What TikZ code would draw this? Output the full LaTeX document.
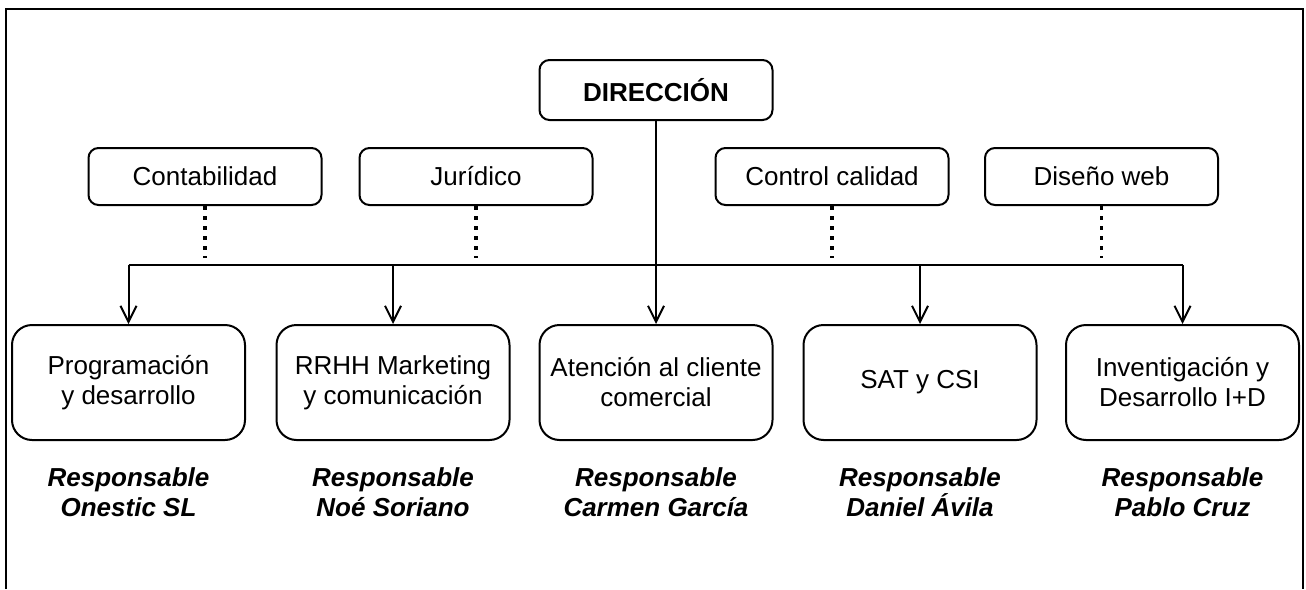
\documentclass[tikz,border=0pt]{standalone}
\usepackage{fontspec}
\setmainfont{Liberation Sans}
\usetikzlibrary{arrows.meta}

\begin{document}
\begin{tikzpicture}[x=0.5pt, y=-0.5pt,
    area/.style={draw, line width=1pt, rounded corners=5pt, minimum width=116.5pt, minimum height=28.5pt, inner sep=0pt, font=\fontsize{13}{15}\selectfont},
    dept/.style={draw, line width=1pt, rounded corners=10pt, minimum width=116.5pt, minimum height=57.5pt, inner sep=0pt, align=center, font=\fontsize{13}{15}\selectfont},
    resp/.style={align=center, font=\fontsize{13}{15}\selectfont\bfseries\itshape},
    link/.style={line width=1pt, -{Straight Barb[length=8pt,width=8pt]}},
    support/.style={line width=1.6pt, dash pattern=on 2pt off 3pt}]
        \useasboundingbox (0,0) rectangle (1306,589);
        \draw[line width=1.3pt] (6,589) -- (6,9) -- (1303,9) -- (1303,589);

        % direccion y areas de apoyo
        \node[area, minimum height=30pt, font=\fontsize{13}{15}\selectfont\bfseries] (dir) at (656,90) {DIRECCIÓN};
        \node[area] (conta) at (205,176.5) {Contabilidad};
        \node[area] (jur) at (476,176.5) {Jurídico};
        \node[area] (calidad) at (832,176.5) {Control calidad};
        \node[area] (diseno) at (1101.5,176.5) {Diseño web};

        % departamentos
        \node[dept] (prog) at (128.5,382.5) {Programación\\y desarrollo};
        \node[dept] (rrhh) at (393,382.5) {RRHH Marketing\\y comunicación};
        \node[dept] (aten) at (656,382.5) {Atención al cliente\\comercial};
        \node[dept] (sat) at (920,382.5) {SAT y CSI};
        \node[dept] (idi) at (1182.5,382.5) {Inventigación y\\Desarrollo I+D};

        \node[resp] (rprog) at (128.5,492) {Responsable\\Onestic SL};
        \node[resp] (rrrhh) at (393,492) {Responsable\\Noé Soriano};
        \node[resp] (raten) at (656,492) {Responsable\\Carmen García};
        \node[resp] (rsat) at (920,492) {Responsable\\Daniel Ávila};
        \node[resp] (ridi) at (1182.5,492) {Responsable\\Pablo Cruz};

        \coordinate (bus) at (656,265);
        \draw[line width=1pt] (prog.north |- bus) -- (idi.north |- bus);
        \draw[link] (dir.south) -- (aten.north);
        \foreach \n in {prog,rrhh,sat,idi}
            \draw[link] (\n.north |- bus) -- (\n.north);
        \foreach \n in {conta,jur,calidad,diseno}
            \draw[support, shorten >=3.5pt] (\n.south) -- (\n.south |- bus);
    \end{tikzpicture}
\end{document}
